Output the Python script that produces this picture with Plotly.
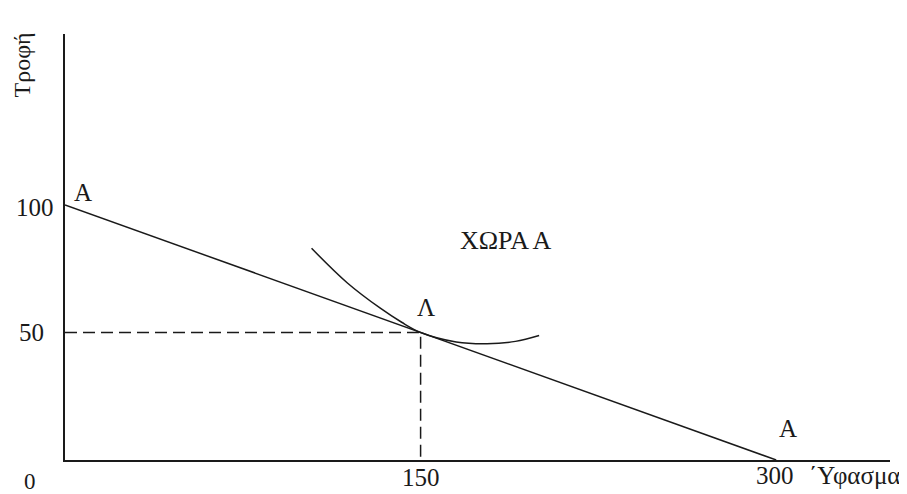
import plotly.graph_objects as go

# budget line A-A (food vs cloth)
budget_x = [0, 300]
budget_y = [100, 0]

# tangency point Λ
point_x = 150
point_y = 50

# indifference curve
curve_x = [104, 119, 133, 142, 150, 165, 178, 190, 200]
curve_y = [83, 69.5, 59.5, 54, 50, 46.3, 45.6, 46.5, 48.8]

x_ticks = [150, 300]
y_ticks = [50, 100]

X_MAX = 348
Y_MAX = 167
FONT = "Liberation Serif"
INK = "#1a1a1a"

fig = go.Figure()

fig.add_trace(go.Scatter(x=budget_x, y=budget_y, mode="lines",
                         line=dict(color=INK, width=1.5)))
fig.add_trace(go.Scatter(x=curve_x, y=curve_y, mode="lines",
                         line=dict(color=INK, width=1.5, shape="spline", smoothing=1.0)))
# dashed guides to the axes
fig.add_trace(go.Scatter(x=[0, point_x, point_x], y=[point_y, point_y, 0], mode="lines",
                         line=dict(color=INK, width=1.5, dash="12px,6px")))


def label(txt, x, y, size=25, angle=0):
    # paper coords so that labels outside the axes are still drawn
    fig.add_annotation(x=x / X_MAX, y=y / Y_MAX, xref="paper", yref="paper",
                       xanchor="center", yanchor="middle",
                       text=txt, showarrow=False, textangle=angle,
                       font=dict(family=FONT, size=size, color=INK))


label("A", 7.6, 104.7)
label("A", 305, 12.5)
label("Λ", 152.3, 59.6)
label("ΧΩΡΑ Α", 186, 86, size=26)
label("0", -14.8, -8.4, size=23)
label("΄Υφασμα", 333, -6)
label(str(y_ticks[1]), -12.7, 98.8)
label(str(y_ticks[0]), -14.1, 49.8)
label(str(x_ticks[0]), x_ticks[0], -7)
label(str(x_ticks[1]), x_ticks[1] - 0.4, -6)
label("Τροφή", -18.2, 155, size=24, angle=-90)

fig.update_xaxes(range=[0, X_MAX], showline=True, linecolor=INK, linewidth=2,
                 showgrid=False, zeroline=False, showticklabels=False, ticks="")
fig.update_yaxes(range=[0, Y_MAX], showline=True, linecolor=INK, linewidth=2,
                 showgrid=False, zeroline=False, showticklabels=False, ticks="")

# the page body adds an 8px offset, so margins are shifted to compensate
fig.update_layout(
    width=907, height=494, autosize=False,
    margin=dict(l=57, r=25, t=26, b=42, autoexpand=False),
    plot_bgcolor="white", paper_bgcolor="white",
    showlegend=False,
)

fig.write_html("out.html")
